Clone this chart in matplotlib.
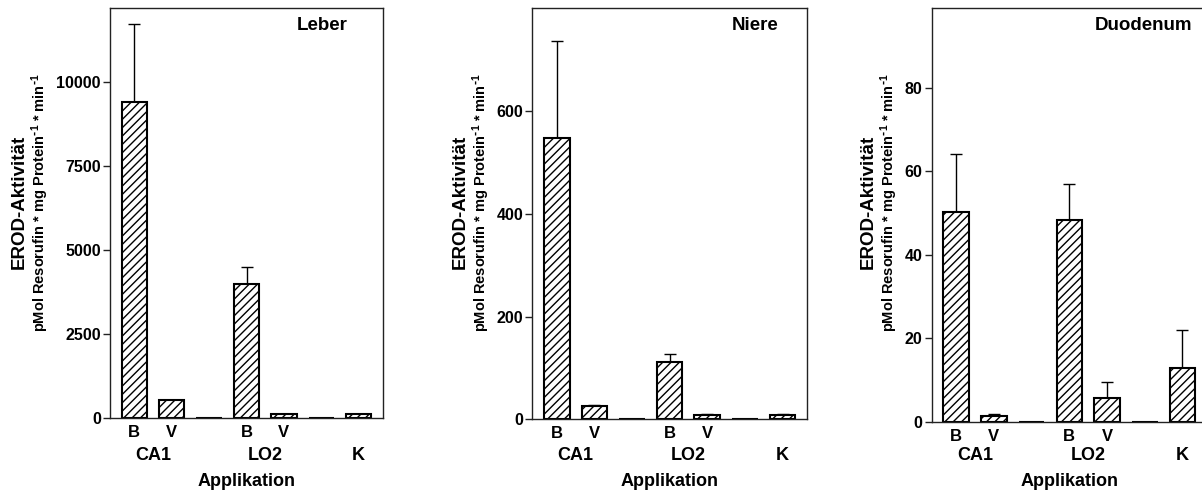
import matplotlib
matplotlib.use('Agg')
import matplotlib.pyplot as plt
import matplotlib.transforms as mtransforms
import numpy as np

plt.rcParams['font.family'] = ['Liberation Sans', 'DejaVu Sans']
plt.rcParams['font.weight'] = 'bold'
plt.rcParams['mathtext.default'] = 'regular'
plt.rcParams['hatch.linewidth'] = 1.0

# bar order: CA1 B, CA1 V, (gap), LO2 B, LO2 V, (gap), K
tickLabels = ['B', 'V', '', 'B', 'V', '', '']
groupNames = ['CA1', 'LO2', 'K']
groupPos = [0.5, 3.5, 6]

leberMean = [9400, 550, 0, 4000, 120, 0, 120]
leberErr = [2330, 0, 0, 490, 0, 0, 20]
niereMean = [548, 25, 0, 111, 9, 0, 9]
niereErr = [189, 3, 0, 17, 1, 0, 1]
duoMean = [50.2, 1.4, 0, 48.2, 5.7, 0, 12.9]
duoErr = [14.0, 0.5, 0, 8.7, 3.9, 0, 9.0]

W, H = 1202, 492
fig = plt.figure(figsize=(W / 100, H / 100), dpi=100)

# name, means, errors, ylim top, yticks, box (left, right, top, bottom) in px, title x, label x
panels = [
    ('Leber', leberMean, leberErr, 12211, [0, 2500, 5000, 7500, 10000], (110, 383, 8, 418.3), 321.7, (19, 40)),
    ('Niere', niereMean, niereErr, 800, [0, 200, 400, 600], (532.3, 807, 8.3, 419.3), 755, (460, 481.7)),
    ('Duodenum', duoMean, duoErr, 99, [0, 20, 40, 60, 80], (931.7, 1207, 8.3, 421.7), 1143.3, (868.3, 889.3)),
]

indices = np.arange(len(tickLabels))
width = 0.68

for name, mean, err, ytop, yticks, box, titleX, labX in panels:
    l, r, t, b = box
    ax = fig.add_axes([l / W, (H - b) / H, (r - l) / W, (b - t) / H])
    ax.bar(indices, mean, width=width, color='white', edgecolor='black',
           linewidth=1.5, hatch='////', zorder=2)
    ax.errorbar(indices, mean, yerr=[np.zeros(len(err)), err], fmt='none',
                ecolor='black', elinewidth=1.0, capsize=4.5, capthick=1.0, zorder=1)
    ax.set_xlim(-0.65, 6.65)
    ax.set_ylim(0, ytop)
    ax.set_yticks(yticks)
    ax.set_yticklabels([str(v) for v in yticks], fontsize=11.5, fontweight='bold')
    ax.set_xticks(indices)
    ax.set_xticklabels(tickLabels, fontsize=12, fontweight='bold')
    ax.tick_params(axis='x', length=0, pad=5)
    ax.tick_params(axis='y', length=5, width=1.0, pad=1.5, color='#222222')
    for s in ax.spines.values():
        s.set_linewidth(1.0)
        s.set_color('#222222')

    trans = mtransforms.blended_transform_factory(ax.transData, fig.transFigure)
    for g, p in zip(groupNames, groupPos):
        ax.text(p, 1 - 456 / H, g, transform=trans, ha='center', va='center',
                fontsize=13, fontweight='bold')
    ax.text(3, 1 - 482 / H, 'Applikation', transform=trans, ha='center', va='center',
            fontsize=13, fontweight='bold')

    fig.text(titleX / W, 1 - 26 / H, name, ha='center', va='center',
             fontsize=13.5, fontweight='bold')
    fig.text(labX[0] / W, 1 - 202 / H, 'EROD-Aktivität', rotation=90,
             ha='center', va='center', fontsize=13.5, fontweight='bold')
    fig.text(labX[1] / W, 1 - 203 / H,
             r'pMol Resorufin * mg Protein$^{\text{-}1}$ * min$^{\text{-}1}$', rotation=90,
             ha='center', va='center', fontsize=10.5, fontweight='bold')

fig.savefig('out.png', dpi=100)
